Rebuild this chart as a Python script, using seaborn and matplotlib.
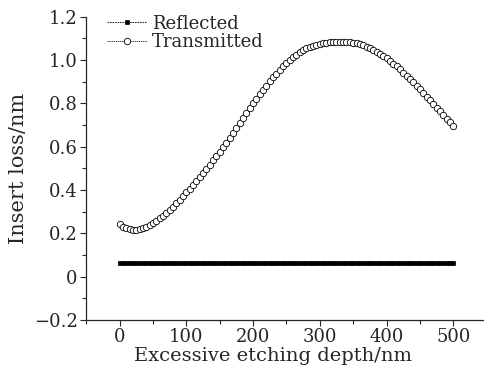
import numpy as np
import pandas as pd
import seaborn as sns
import matplotlib.pyplot as plt
from matplotlib.ticker import MultipleLocator

# excessive etching depth (nm), sampled every 5 nm
depth = list(range(0, 505, 5))

transmitted = [
    0.245, 0.232, 0.224, 0.219, 0.217, 0.218, 0.221, 0.226, 0.232, 0.240,
    0.249, 0.259, 0.270, 0.282, 0.295, 0.309, 0.324, 0.340, 0.356, 0.373,
    0.390, 0.407, 0.424, 0.442, 0.460, 0.479, 0.498, 0.517, 0.537, 0.557,
    0.578, 0.598, 0.619, 0.641, 0.663, 0.685, 0.708, 0.731, 0.754, 0.777,
    0.800, 0.822, 0.843, 0.863, 0.883, 0.902, 0.920, 0.938, 0.955, 0.971,
    0.986, 1.000, 1.013, 1.025, 1.036, 1.046, 1.054, 1.061, 1.067, 1.072,
    1.076, 1.079, 1.081, 1.083, 1.084, 1.085, 1.085, 1.084, 1.083, 1.082,
    1.080, 1.077, 1.073, 1.068, 1.062, 1.055, 1.047, 1.038, 1.028, 1.017,
    1.008, 0.996, 0.984, 0.971, 0.957, 0.943, 0.928, 0.913, 0.897, 0.881,
    0.865, 0.849, 0.832, 0.815, 0.798, 0.781, 0.764, 0.747, 0.730, 0.713,
    0.696,
]

reflected = [0.063] * len(depth)

df = pd.DataFrame({'depth': depth,
                   'Reflected': reflected,
                   'Transmitted': transmitted})

sns.set_style('ticks')
plt.rcParams['font.family'] = ['DejaVu Serif']

fig = plt.figure(figsize=(4.84, 3.74), dpi=100)
ax = fig.add_axes([0.178, 0.144, 0.822, 0.811])

sns.lineplot(data=df, x='depth', y='Reflected', ax=ax,
             color='black', linestyle=(0, (2, 1)), linewidth=0.6,
             marker='s', markersize=3, markeredgewidth=0.5,
             markerfacecolor='black', markeredgecolor='black',
             label='Reflected')
sns.lineplot(data=df, x='depth', y='Transmitted', ax=ax,
             color='black', linestyle=(0, (2, 1)), linewidth=0.5,
             marker='o', markersize=4.6, markeredgewidth=0.6,
             markerfacecolor='white', markeredgecolor='black',
             label='Transmitted')

ax.set_xlim(-50, 546)
ax.set_ylim(-0.2, 1.2)
ax.xaxis.set_major_locator(MultipleLocator(100))
ax.xaxis.set_minor_locator(MultipleLocator(50))
ax.yaxis.set_minor_locator(MultipleLocator(0.1))
ax.set_yticks([-0.2, 0, 0.2, 0.4, 0.6, 0.8, 1.0, 1.2])
ax.set_yticklabels(['\u22120.2', '0', '0.2', '0.4', '0.6', '0.8', '1.0', '1.2'])
ax.tick_params(which='major', direction='out', length=4, width=0.8,
               labelsize=13, pad=2)
ax.tick_params(which='minor', direction='out', length=3, width=0.8)

for side in ['top', 'right']:
    ax.spines[side].set_visible(False)
ax.spines['left'].set_linewidth(0.9)
ax.spines['bottom'].set_linewidth(0.9)

ax.set_xlabel('Excessive etching depth/nm', fontsize=14)
ax.xaxis.set_label_coords(0.47, -0.09)
ax.set_ylabel('Insert loss/nm', fontsize=15, labelpad=4)

ax.legend(loc='upper left', bbox_to_anchor=(0.195, 0.995),
          bbox_transform=fig.transFigure, frameon=False, fontsize=13,
          handlelength=2.2, handletextpad=0.3, labelspacing=0.05,
          borderpad=0.2)

plt.savefig('out.png', dpi=100)
